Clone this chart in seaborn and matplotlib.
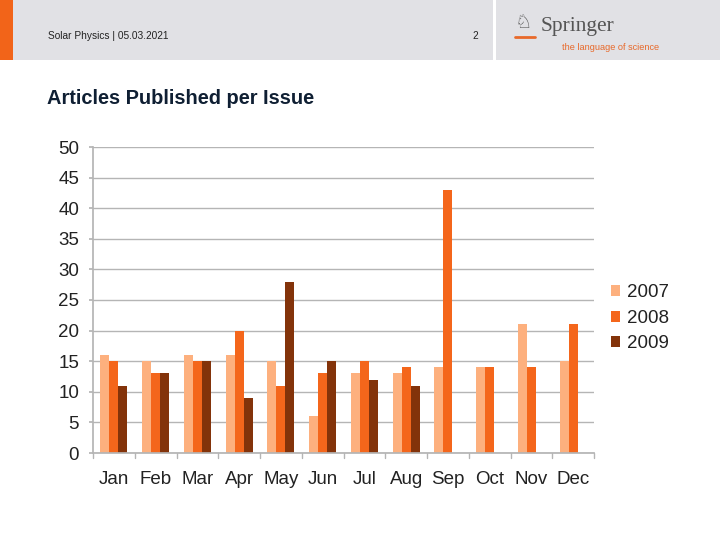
import numpy as np
import pandas as pd
import matplotlib
matplotlib.use("Agg")
import matplotlib.pyplot as plt
import seaborn as sns
from matplotlib.patches import Rectangle
from matplotlib.lines import Line2D

months = ["Jan", "Feb", "Mar", "Apr", "May", "Jun", "Jul", "Aug", "Sep", "Oct", "Nov", "Dec"]
years = ["2007", "2008", "2009"]
v2007 = [16, 15, 16, 16, 15, 6, 13, 13, 14, 14, 21, 15]
v2008 = [15, 13, 15, 20, 11, 13, 15, 14, 43, 14, 14, 21]
v2009 = [11, 13, 15, 9, 28, 15, 12, 11, np.nan, np.nan, np.nan, np.nan]
y_ticks = [0, 5, 10, 15, 20, 25, 30, 35, 40, 45, 50]

colors = ["#FDB07E", "#F4661B", "#83330A"]

df = pd.DataFrame({
    "Month": months * 3,
    "Year": [years[0]] * 12 + [years[1]] * 12 + [years[2]] * 12,
    "Articles": v2007 + v2008 + v2009,
})

sns.set_theme(style="white")
plt.rcParams["font.family"] = ["Liberation Sans", "DejaVu Sans"]

fig = plt.figure(figsize=(7.2, 5.4), dpi=100)
fig.patch.set_facecolor("white")

# Header band
fig.patches.append(Rectangle((0, 1 - 60 / 540), 1, 60 / 540, transform=fig.transFigure,
                             facecolor="#E1E1E5", edgecolor="none", zorder=0))
fig.patches.append(Rectangle((0, 1 - 60 / 540), 13 / 720, 60 / 540, transform=fig.transFigure,
                             facecolor="#F26419", edgecolor="none", zorder=1))
fig.patches.append(Rectangle((493 / 720, 1 - 60 / 540), 3 / 720, 60 / 540, transform=fig.transFigure,
                             facecolor="white", edgecolor="none", zorder=1))
fig.text(48 / 720, 1 - 36 / 540, "Solar Physics | 05.03.2021", fontsize=7.3, color="#222222",
         va="center", ha="left")
fig.text(475 / 720, 1 - 36 / 540, "2", fontsize=7.3, color="#222222", va="center", ha="center")
fig.text(541 / 720, 1 - 27 / 540, "Springer", fontsize=15.5, color="#555555",
         family=["Liberation Serif", "DejaVu Serif"], va="center", ha="left")
fig.text(562 / 720, 1 - 47 / 540, "the language of science", fontsize=6.6, color="#E8692A",
         va="center", ha="left")
fig.text(524 / 720, 1 - 22 / 540, "♘", fontsize=14, color="#555555",
         family=["DejaVu Sans"], va="center", ha="center")
fig.lines.append(Line2D([515 / 720, 535 / 720], [1 - 37 / 540, 1 - 37 / 540],
                        transform=fig.transFigure, color="#E8692A", linewidth=2))

fig.text(47 / 720, 1 - 99 / 540, "Articles Published per Issue", fontsize=14.4,
         fontweight="bold", color="#0F1F33", va="center", ha="left")

ax = fig.add_axes([93 / 720, 1 - 453 / 540, (594 - 93) / 720, (453 - 147) / 540])
sns.barplot(data=df, x="Month", y="Articles", hue="Year", palette=colors,
            width=0.65, saturation=1, linewidth=0, edgecolor="none", ax=ax, legend=True)

ax.set_ylim(0, 50)
ax.set_xlim(-0.5, 11.5)
ax.set_yticks(y_ticks)
ax.set_yticklabels([str(t) for t in y_ticks], fontsize=13.5, color="#222222")
ax.set_xticks(range(12))
ax.set_xticklabels(months, fontsize=13.5, color="#222222")
ax.set_xlabel("")
ax.set_ylabel("")
ax.grid(axis="y", color="#B5B5B5", linewidth=1)
ax.set_axisbelow(True)
for s in ["top", "right"]:
    ax.spines[s].set_visible(False)
ax.spines["left"].set_color("#B5B5B5")
ax.spines["bottom"].set_color("#B5B5B5")
ax.tick_params(axis="y", length=3, color="#B5B5B5", pad=7, left=True)
ax.tick_params(axis="x", length=0, pad=13)
# category separator ticks
for b in np.arange(-0.5, 12, 1):
    ax.plot([b, b], [0, -0.8], color="#B5B5B5", linewidth=1, clip_on=False)

leg = ax.legend(loc="center left", bbox_to_anchor=(1.0, 0.44), frameon=False,
                fontsize=13.5, handlelength=0.5, handleheight=0.5, handletextpad=0.35,
                labelspacing=0.45, borderaxespad=0.5)
for t in leg.get_texts():
    t.set_color("#222222")

fig.savefig("out.png", dpi=100)
